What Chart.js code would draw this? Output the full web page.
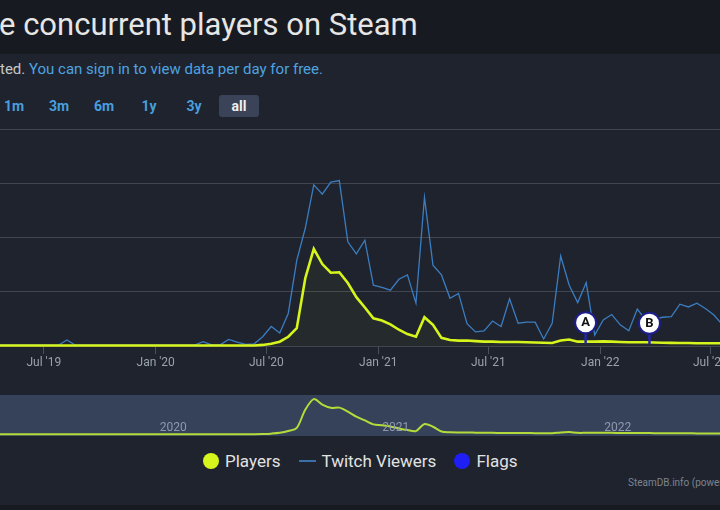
<!DOCTYPE html>
<html>
<head>
<meta charset="utf-8">
<script src="https://cdn.jsdelivr.net/npm/chart.js@4.4.0/dist/chart.umd.min.js"></script>
<style>
    body { margin: 0; width: 720px; height: 510px; overflow: hidden; background: #1f232d; font-family: Roboto, "Noto Sans", sans-serif; position: relative; }
    #titleBar { position: absolute; left: 0; top: 0; width: 720px; height: 54px; background: #171a21; }
    #titleBar h1 { margin: 0; position: absolute; left: -1px; top: 5px; font-weight: 400; font-size: 31px; line-height: 40px; color: #e6e6e6; white-space: nowrap; }
    #notice { position: absolute; left: 0; top: 59px; font-size: 15px; line-height: 20px; color: #c6c6c6; white-space: nowrap; }
    #notice a { color: #4ea3e0; text-decoration: none; }
    #ranges { position: absolute; left: -6px; top: 95px; display: flex; gap: 5px; }
    #ranges span { width: 40px; height: 22px; line-height: 22px; text-align: center; font-size: 14px; font-weight: 700; color: #479fdf; border-radius: 3px; }
    #ranges span.active { background: #3a4357; color: #f0f0f0; }
    #mainChart { position: absolute; left: 0; top: 120px; }
    #navChart { position: absolute; left: 0; top: 395px; background: #35425a; }
    #legend { position: absolute; left: 203px; top: 451px; display: flex; align-items: center; font-size: 17px; color: #e2e2e2; white-space: nowrap; }
    #legend .dot { width: 16px; height: 16px; border-radius: 50%; margin-right: 6px; }
    #legend .dash { width: 17px; height: 2px; background: #3a6fa8; margin-right: 5px; }
    #credits { position: absolute; left: 628px; top: 477px; font-size: 10px; color: #7d8490; white-space: nowrap; }
    #bottomBar { position: absolute; left: 0; top: 505px; width: 720px; height: 5px; background: #171a21; }
</style>
</head>
<body>
<div id="titleBar"><h1>e concurrent players on Steam</h1></div>
<div id="notice">ted. <a>You can sign in to view data per day for free.</a></div>
<div id="ranges"><span>1m</span><span>3m</span><span>6m</span><span>1y</span><span>3y</span><span class="active">all</span></div>
<canvas id="mainChart" width="720" height="256"></canvas>
<canvas id="navChart" width="720" height="41"></canvas>
<div id="legend">
    <div class="dot" style="background:#d6f51d"></div><span>Players</span>
    <div class="dash" style="margin-left:19px"></div><span>Twitch Viewers</span>
    <div class="dot" style="background:#1f1ff5;margin-left:18px"></div><span>Flags</span>
</div>
<div id="credits">SteamDB.info (powered by Highcharts)</div>
<div id="bottomBar"></div>

<script>
// Chart data (one point every two weeks)
const firstWeek = '2019-04-18';
const stepDays = 14;

const players = [
    10, 10, 10, 10, 10, 10, 10, 10, 10, 10,
    10, 10, 10, 10, 10, 10, 10, 10, 10, 10,
    10, 10, 10, 10, 10, 10, 10, 10, 10, 10,
    10, 20, 40, 80, 170, 330, 1250, 1790, 1510, 1350,
    1360, 1160, 900, 710, 510, 470, 400, 300, 220, 170,
    530, 390, 150, 110, 100, 100, 90, 80, 80, 75,
    75, 75, 70, 65, 60, 55, 100, 120, 80, 80,
    80, 85, 80, 75, 70, 68, 68, 65, 60, 58,
    55, 55, 52, 50, 50, 50
];

const twitchViewers = [
    15, 15, 15, 15, 15, 15, 15, 15, 110, 15,
    15, 15, 15, 15, 15, 15, 15, 15, 15, 15,
    15, 15, 15, 15, 80, 20, 20, 120, 70, 30,
    40, 170, 360, 240, 600, 1580, 2170, 2970, 2800, 3020,
    3050, 1920, 1700, 1950, 1120, 1080, 1030, 1230, 1310, 790,
    2740, 1490, 1310, 880, 970, 410, 260, 280, 460, 360,
    870, 420, 440, 440, 130, 420, 1660, 1120, 800, 1170,
    200, 480, 580, 390, 280, 680, 480, 500, 530, 540,
    770, 720, 790, 690, 570, 390
];

const tickDates = ['2019-07-01', '2020-01-01', '2020-07-01', '2021-01-01', '2021-07-01', '2022-01-01', '2022-07-01'];
const tickLabels = ["Jul '19", "Jan '20", "Jul '20", "Jan '21", "Jul '21", "Jan '22", "Jul '22"];

const navYears = ['2020-01-01', '2021-01-01', '2022-01-01'];
const navLabels = ['2020', '2021', '2022'];

const flagDates = ['2021-12-08', '2022-03-23'];
const flagTitles = ['A', 'B'];

const rangeStart = '2019-04-20';
const rangeEnd = '2022-07-17';

const DAY = 86400000;

function toPoints(values) {
    const start = Date.parse(firstWeek);
    return values.map((v, i) => ({ x: start + i * stepDays * DAY, y: v }));
}

function playersAt(t) {
    const idx = Math.round((t - Date.parse(firstWeek)) / (stepDays * DAY));
    return players[Math.max(0, Math.min(players.length - 1, idx))];
}

// Draws the A / B pins above the players line
const flagPlugin = {
    id: 'flags',
    afterDatasetsDraw(chart) {
        const { ctx, scales: { x, y } } = chart;
        ctx.save();
        flagDates.forEach((d, i) => {
            const t = Date.parse(d);
            const px = x.getPixelForValue(t);
            const base = y.getPixelForValue(playersAt(t));
            const cy = base - 19;
            ctx.strokeStyle = '#2626a8';
            ctx.lineWidth = 2.5;
            ctx.beginPath();
            ctx.moveTo(px, base + 2);
            ctx.lineTo(px, cy + 10);
            ctx.stroke();
            ctx.beginPath();
            ctx.arc(px, cy, 10.5, 0, Math.PI * 2);
            ctx.fillStyle = '#ffffff';
            ctx.fill();
            ctx.lineWidth = 2;
            ctx.strokeStyle = '#1d1d8c';
            ctx.stroke();
            ctx.fillStyle = '#111111';
            ctx.font = 'bold 13px Roboto, sans-serif';
            ctx.textAlign = 'center';
            ctx.textBaseline = 'middle';
            ctx.fillText(flagTitles[i], px, cy + 0.5);
        });
        ctx.restore();
    }
};

const mainChart = new Chart(document.getElementById('mainChart'), {
    type: 'line',
    data: {
        datasets: [
            {
                label: 'Players',
                data: toPoints(players),
                borderColor: '#d6f51d',
                backgroundColor: 'rgba(214, 245, 29, 0.04)',
                borderWidth: 2.6,
                pointRadius: 0,
                fill: 'origin',
                tension: 0,
                clip: 6
            },
            {
                label: 'Twitch Viewers',
                data: toPoints(twitchViewers),
                borderColor: '#3b7dc0',
                borderWidth: 1.3,
                pointRadius: 0,
                fill: false,
                tension: 0,
                clip: 6
            }
        ]
    },
    options: {
        responsive: false,
        animation: false,
        devicePixelRatio: 1,
        layout: { padding: { top: 9, left: 0, right: 0, bottom: 0 } },
        plugins: {
            legend: { display: false },
            tooltip: { enabled: false }
        },
        scales: {
            x: {
                type: 'linear',
                min: Date.parse(rangeStart),
                max: Date.parse(rangeEnd),
                afterBuildTicks: scale => {
                    scale.ticks = tickDates.map(d => ({ value: Date.parse(d) }));
                },
                afterFit: scale => {
                    scale.height = 30;
                    scale.paddingLeft = 0;
                    scale.paddingRight = 0;
                },
                ticks: {
                    autoSkip: false,
                    maxRotation: 0,
                    padding: 2,
                    color: '#9aa2ae',
                    font: { size: 12, family: 'Roboto, sans-serif' },
                    callback: (value, index) => tickLabels[index]
                },
                grid: {
                    drawOnChartArea: false,
                    drawTicks: true,
                    tickLength: 8,
                    color: '#4a505c'
                },
                border: { display: false }
            },
            y: {
                min: 0,
                max: 4000,
                afterFit: scale => { scale.width = 0; },
                ticks: { display: false, stepSize: 1000 },
                grid: { color: '#40454f', drawTicks: false },
                border: { display: false }
            }
        }
    },
    plugins: [flagPlugin]
});

// Year labels inside the navigator strip
const navLabelPlugin = {
    id: 'navLabels',
    afterDatasetsDraw(chart) {
        const { ctx, scales: { x } } = chart;
        ctx.save();
        ctx.fillStyle = '#8e99ad';
        ctx.font = '12px Roboto, sans-serif';
        ctx.textBaseline = 'alphabetic';
        navYears.forEach((d, i) => {
            ctx.fillText(navLabels[i], x.getPixelForValue(Date.parse(d)) + 4, 36);
        });
        ctx.restore();
    }
};

const navChart = new Chart(document.getElementById('navChart'), {
    type: 'line',
    data: {
        datasets: [{
            data: toPoints(players),
            borderColor: '#b3dc3a',
            borderWidth: 2,
            pointRadius: 0,
            tension: 0.3,
            clip: 4
        }]
    },
    options: {
        responsive: false,
        animation: false,
        devicePixelRatio: 1,
        layout: { padding: 0 },
        plugins: {
            legend: { display: false },
            tooltip: { enabled: false }
        },
        scales: {
            x: { type: 'linear', display: false, min: Date.parse(rangeStart), max: Date.parse(rangeEnd) },
            y: { display: false, min: -80, max: 2000 }
        }
    },
    plugins: [navLabelPlugin]
});
</script>
</body>
</html>
